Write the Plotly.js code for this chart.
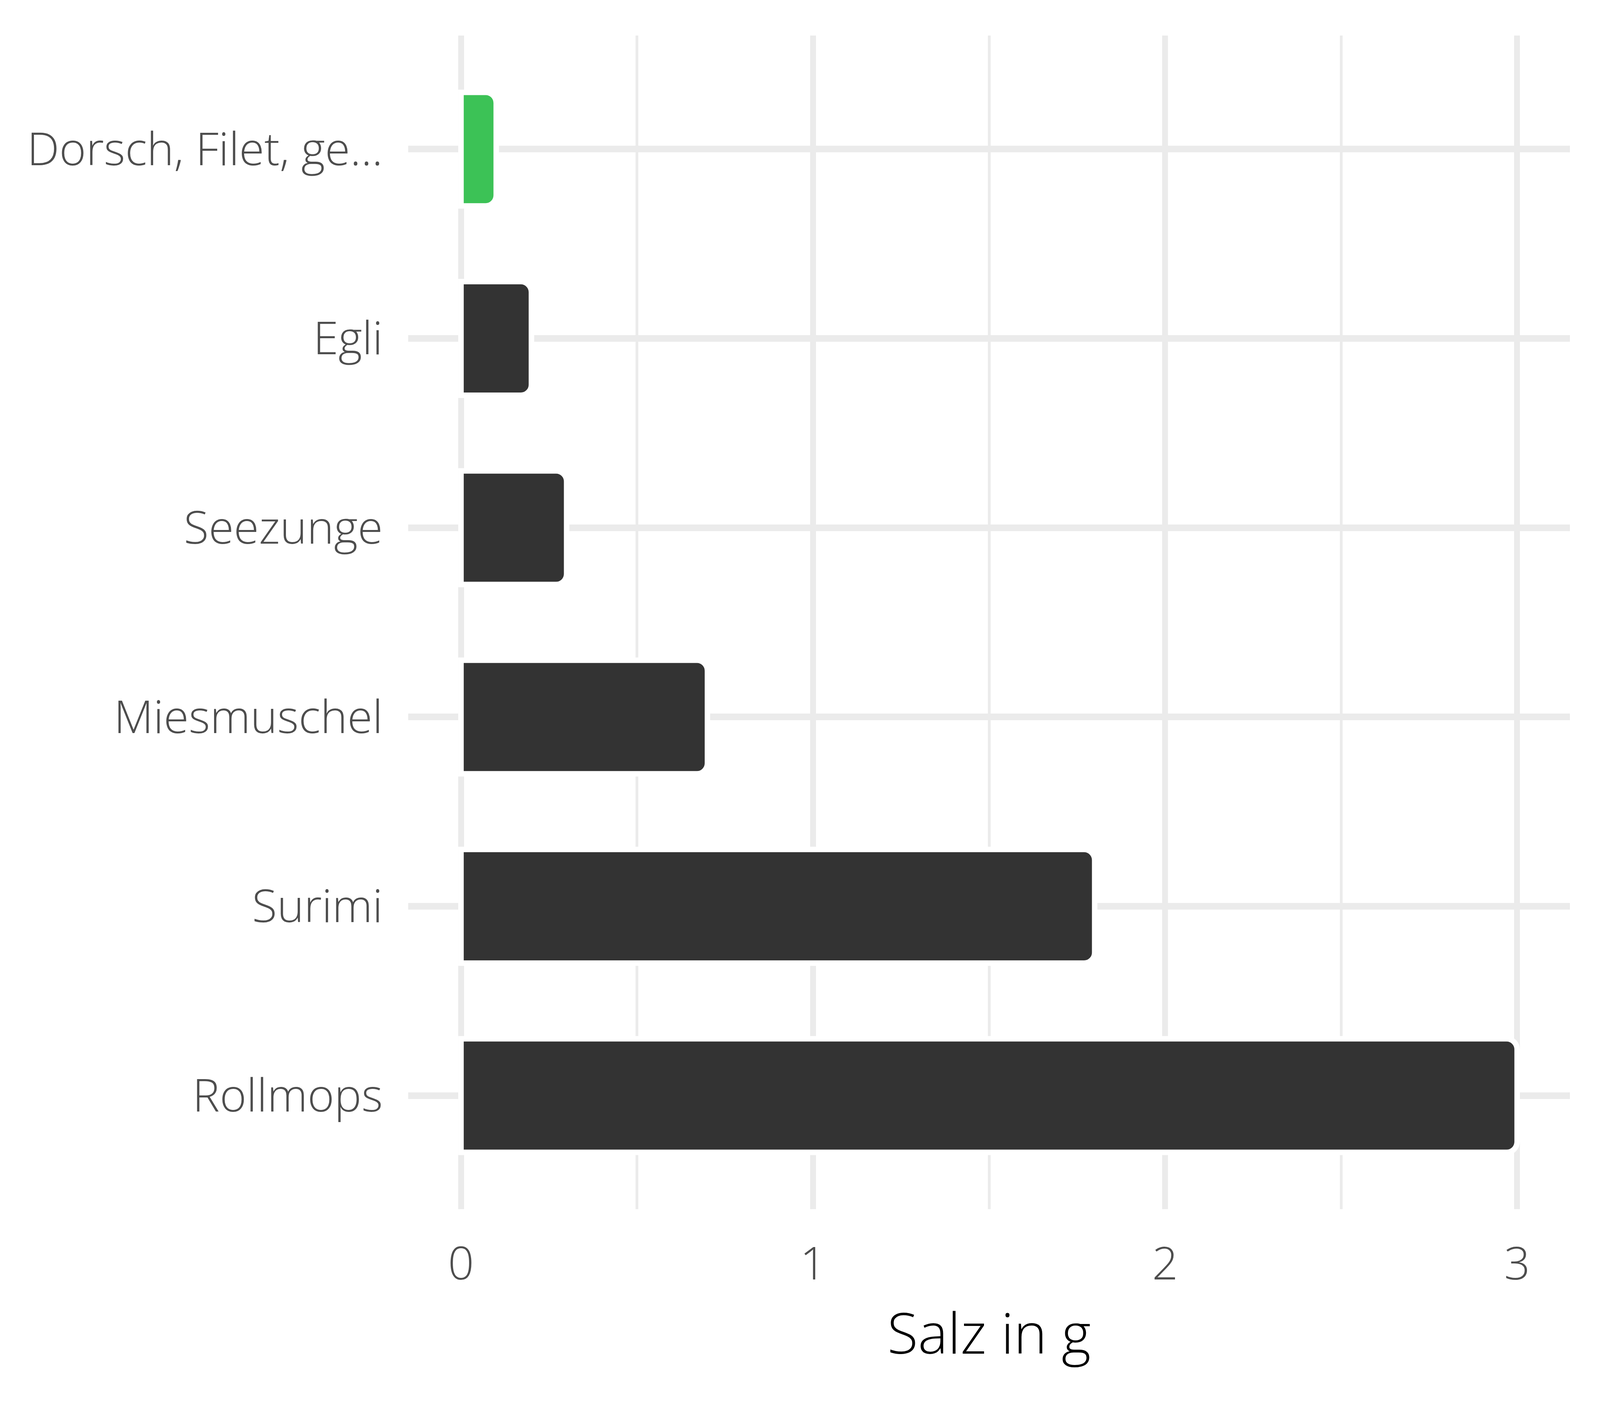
<!DOCTYPE html>
<html>
<head>
<meta charset="utf-8">
<script src="https://cdn.plot.ly/plotly-3.0.1.min.js"></script>
<style>
html,body{margin:0;padding:0;background:#fff;overflow:hidden;}
#chart{position:absolute;left:0;top:0;}
</style>
</head>
<body>
<div id="chart"></div>
<script>
// Data (top to bottom)
var categories = ["Dorsch, Filet, ge...", "Egli", "Seezunge", "Miesmuschel", "Surimi", "Rollmops"];
var salzValues = [0.1, 0.2, 0.3, 0.7, 1.8, 3.0];
var barColors = ["#3CC256", "#333333", "#333333", "#333333", "#333333", "#333333"];
var xTickValues = [0, 1, 2, 3];
var xTickLabels = ["0", "1", "2", "3"];
var xAxisTitle = "Salz in g";

var FONT = "Open Sans, Lato, DejaVu Sans, sans-serif";

// lay the chart out over the whole actual viewport (reference is 4800x3600)
var W = window.innerWidth || 4800;
var H = window.innerHeight || 3600;
var sx = W / 4800, sy = H / 3600;
var smin = Math.min(sx, sy);
var fs = Math.min(1, 0.5 * (sx + sy) - 0.05);
var el = document.getElementById("chart");
el.style.width = W + "px";
el.style.height = H + "px";

var trace = {
  type: "bar",
  orientation: "h",
  x: salzValues,
  y: categories,
  width: 0.6,
  marker: {
    color: barColors,
    line: {color: "#FFFFFF", width: Math.round(16 * smin)},
    cornerradius: Math.round(32 * smin)
  },
  hoverinfo: "none"
};

var layout = {
  width: W,
  height: H,
  paper_bgcolor: "#FFFFFF",
  plot_bgcolor: "#FFFFFF",
  showlegend: false,
  margin: {l: Math.round(1225 * sx), r: Math.round(90 * sx), t: Math.round(91 * sy), b: Math.round(504 * sy), pad: 0},
  xaxis: {
    range: [-0.15, 3.15],
    tickvals: xTickValues,
    ticktext: xTickLabels,
    showgrid: true,
    gridcolor: "#EBEBEB",
    gridwidth: Math.round(17 * sx),
    zeroline: false,
    showline: false,
    ticks: "",
    ticklabelstandoff: Math.round(62 * sy),
    tickfont: {family: FONT, size: Math.round(134 * fs), color: "#4D4D4D", weight: 300},
    minor: {dtick: 0.5, tick0: 0, showgrid: true, gridcolor: "#EBEBEB", gridwidth: Math.round(8 * sx), ticks: ""},
    title: {text: xAxisTitle, standoff: Math.round(56 * sy), font: {family: FONT, size: Math.round(164 * fs), color: "#000000", weight: 300}}
  },
  yaxis: {
    type: "category",
    range: [5.6, -0.6],
    showgrid: true,
    gridcolor: "#EBEBEB",
    gridwidth: Math.round(17 * sy),
    zeroline: false,
    showline: false,
    ticks: "",
    ticklabelstandoff: Math.round(75 * sx),
    tickfont: {family: FONT, size: Math.round(134 * fs), color: "#4D4D4D", weight: 300}
  }
};

Plotly.newPlot("chart", [trace], layout, {staticPlot: true, displayModeBar: false});
</script>
</body>
</html>
